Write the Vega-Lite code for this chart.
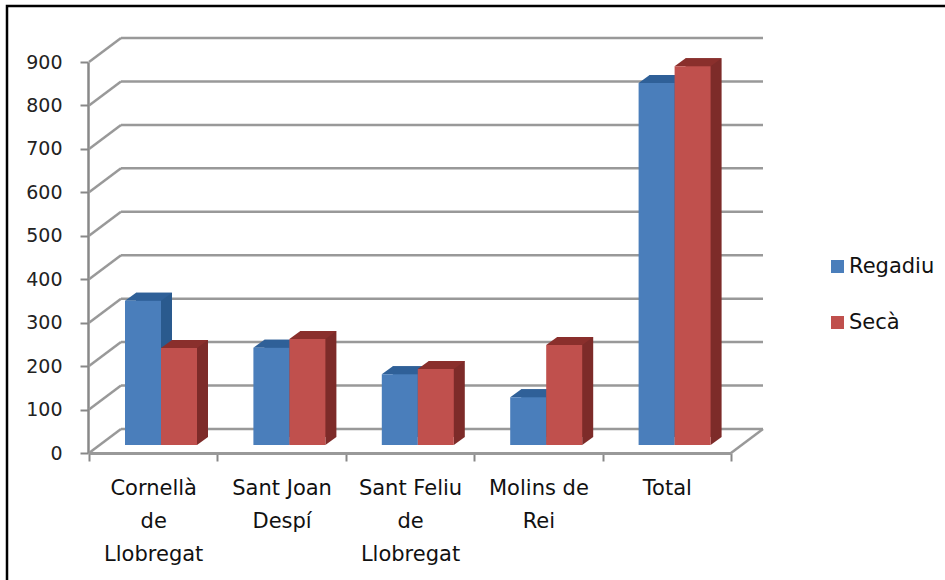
{
"$schema":"https://vega.github.io/schema/vega-lite/v6.json",
"width":945,"height":580,
"autosize":{"type":"none"},
"padding":{"left":7,"top":6,"right":0,"bottom":0},
"background":"white",
"config":{"view":{"stroke":"black","strokeWidth":2.5},"font":"DejaVu Sans"},
"datasets":{
"bars":[
{"municipi":"Cornellà de Llobregat","serie":"Regadiu","valor":332},
{"municipi":"Cornellà de Llobregat","serie":"Secà","valor":223},
{"municipi":"Sant Joan Despí","serie":"Regadiu","valor":224},
{"municipi":"Sant Joan Despí","serie":"Secà","valor":244},
{"municipi":"Sant Feliu de Llobregat","serie":"Regadiu","valor":163},
{"municipi":"Sant Feliu de Llobregat","serie":"Secà","valor":175},
{"municipi":"Molins de Rei","serie":"Regadiu","valor":110},
{"municipi":"Molins de Rei","serie":"Secà","valor":230},
{"municipi":"Total","serie":"Regadiu","valor":833},
{"municipi":"Total","serie":"Secà","valor":872}
],
"levels":[{"v":0},{"v":100},{"v":200},{"v":300},{"v":400},{"v":500},{"v":600},{"v":700},{"v":800},{"v":900}]
},
"encoding":{
"x":{"field":"municipi","type":"nominal","sort":null,"scale":{"domain":["Cornellà de Llobregat","Sant Joan Despí","Sant Feliu de Llobregat","Molins de Rei","Total"],"range":[82,724],"paddingInner":0,"paddingOuter":0},
"axis":{"title":null,"orient":"bottom","offset":-133,"labelAngle":0,"labelFontSize":21,"labelColor":"#111","labelLineHeight":33,"labelPadding":16,"labelLimit":0,"labelBaseline":"top","tickBand":"extent","tickSize":8,"tickWidth":2,"tickColor":"#888","domainColor":"#999","domainWidth":3,
"labelExpr":"{'Cornellà de Llobregat':['Cornellà','de','Llobregat'],'Sant Joan Despí':['Sant Joan','Despí'],'Sant Feliu de Llobregat':['Sant Feliu','de','Llobregat'],'Molins de Rei':['Molins de','Rei'],'Total':['Total']}[datum.label]"}},
"y":{"field":"valor","type":"quantitative","scale":{"domain":[0,900],"range":[447,56],"nice":false},
"axis":{"title":null,"orient":"left","offset":-81,"values":[0,100,200,300,400,500,600,700,800,900],"grid":false,"labelFontSize":19,"labelColor":"#222","labelPadding":18,"tickSize":8,"tickWidth":2,"tickColor":"#888","domainColor":"#888","domainWidth":2.5}}
},
"layer":[
{"data":{"name":"levels"},"mark":{"type":"rule","color":"#999","strokeWidth":2.5,"yOffset":-24,"y2Offset":-24,"xOffset":32,"x2Offset":32},
"encoding":{"x":{"datum":"Cornellà de Llobregat","bandPosition":0},"x2":{"datum":"Total","bandPosition":1},"y":{"field":"v","type":"quantitative"},"y2":{"field":"v"}}},
{"data":{"name":"levels"},"mark":{"type":"rule","color":"#999","strokeWidth":2.5,"y2Offset":-24,"x2Offset":32},
"encoding":{"x":{"datum":"Cornellà de Llobregat","bandPosition":0},"x2":{"datum":"Cornellà de Llobregat","bandPosition":0},"y":{"field":"v","type":"quantitative"},"y2":{"field":"v"}}},
{"data":{"name":"levels"},"transform":[{"filter":"datum.v===0"}],"mark":{"type":"rule","color":"#999","strokeWidth":2.5,"y2Offset":-24,"x2Offset":32},
"encoding":{"x":{"datum":"Total","bandPosition":1},"x2":{"datum":"Total","bandPosition":1},"y":{"field":"v","type":"quantitative"},"y2":{"field":"v"}}},
{"data":{"name":"bars"},"mark":{"type":"bar","yOffset":-16,"y2Offset":-16},
"encoding":{"xOffset":{"field":"serie","scale":{"domain":["Regadiu","Secà"],"range":[47,119],"paddingInner":0,"paddingOuter":0}},"y2":{"datum":0},
"fill":{"condition":{"test":"datum.serie==='Regadiu'","value":"#2A5A8E"},"value":"#7D2B29"}}},
{"data":{"name":"bars"},"mark":{"type":"point","filled":true,"opacity":1,"size":4,"shape":"M36,0L36,-8L47,-8Z","yOffset":-8,"strokeWidth":0},
"encoding":{"xOffset":{"field":"serie","scale":{"domain":["Regadiu","Secà"],"range":[36,72],"padding":0}},"y":{"datum":0},
"fill":{"condition":{"test":"datum.serie==='Regadiu'","value":"#2A5A8E"},"value":"#7D2B29"}}},
{"data":{"name":"bars"},"mark":{"type":"point","filled":true,"opacity":1,"size":4,"shape":"M0,0L36,0L47,-8L11,-8Z","yOffset":-8,"strokeWidth":0},
"encoding":{"xOffset":{"field":"serie","scale":{"domain":["Regadiu","Secà"],"range":[36,72],"padding":0}},
"fill":{"condition":{"test":"datum.serie==='Regadiu'","value":"#2F6098"},"value":"#8A2F2C"}}},
{"data":{"name":"bars"},"mark":{"type":"bar","yOffset":-8,"y2Offset":-8},
"encoding":{"xOffset":{"field":"serie","scale":{"domain":["Regadiu","Secà"],"range":[36,108],"paddingInner":0,"paddingOuter":0}},"y2":{"datum":0},
"color":{"field":"serie","type":"nominal","scale":{"domain":["Regadiu","Secà"],"range":["#4A7EBB","#C0504D"]},
"legend":{"title":null,"orient":"none","legendX":820,"legendY":250,"symbolType":"square","symbolSize":169,"symbolStrokeWidth":0,"labelFontSize":21,"labelColor":"#111","rowPadding":34,"labelOffset":1,"padding":0}}}}
],
"resolve":{"scale":{"xOffset":"independent"}}
}
